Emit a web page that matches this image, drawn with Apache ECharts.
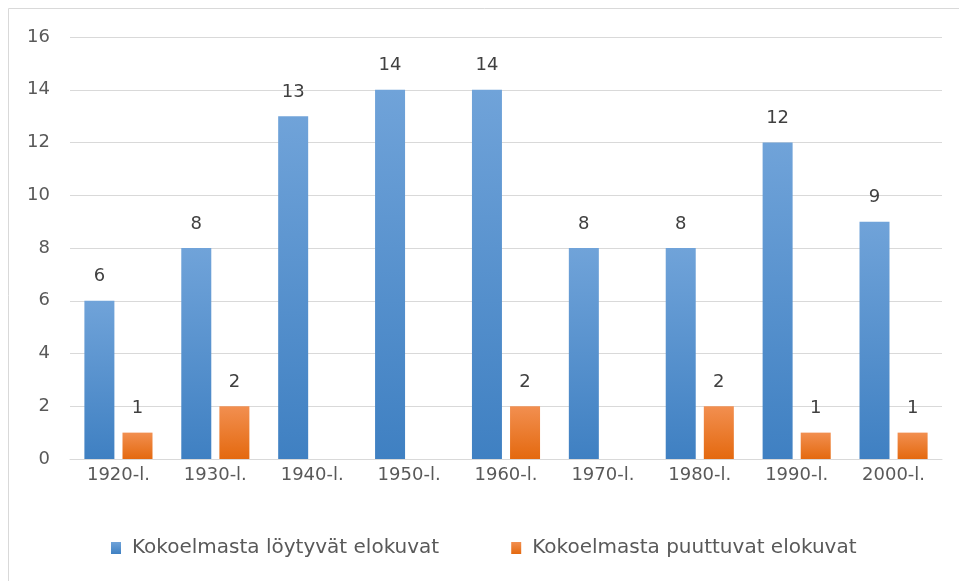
<!DOCTYPE html>
<html><head><meta charset="utf-8">
<script src="https://cdn.jsdelivr.net/npm/echarts@6/dist/echarts.min.js"></script>
<style>html,body{margin:0;padding:0;background:#fff}#c{width:959px;height:581px}</style>
</head><body><div id="c"></div>
<script>
var categories = ['1920-l.','1930-l.','1940-l.','1950-l.','1960-l.','1970-l.','1980-l.','1990-l.','2000-l.'];
var found = [6,8,13,14,14,8,8,12,9];
var missing = [1,2,null,null,2,null,2,1,1];
var seriesNames = ['Kokoelmasta löytyvät elokuvat','Kokoelmasta puuttuvat elokuvat'];
var yTicks = {min:0,max:16,interval:2};

var font = '"DejaVu Sans", sans-serif';
function grad(a,b){return new echarts.graphic.LinearGradient(0,0,0,1,[{offset:0,color:a},{offset:1,color:b}]);}
var chart = echarts.init(document.getElementById('c'));
chart.setOption({
  animation:false,
  textStyle:{fontFamily:font},
  graphic:[{type:'rect',shape:{x:8.5,y:8.5,width:1000,height:600},style:{fill:'none',stroke:'#d9d9d9',lineWidth:1},silent:true}],
  grid:{left:70,right:17,top:37,bottom:122},
  legend:{top:533,left:106,itemWidth:10,itemHeight:12,itemGap:72,icon:'rect',
    textStyle:{color:'#595959',fontSize:20,fontFamily:font,padding:[0,0,0,6]}},
  xAxis:{type:'category',data:categories,
    axisLine:{show:true,lineStyle:{color:'#d9d9d9'}},axisTick:{show:false},
    axisLabel:{color:'#595959',fontSize:18,margin:7,fontFamily:font}},
  yAxis:{type:'value',min:yTicks.min,max:yTicks.max,interval:yTicks.interval,
    axisLine:{show:false},axisTick:{show:false},
    splitLine:{lineStyle:{color:'#d9d9d9'}},
    axisLabel:{color:'#595959',fontSize:18,margin:20,fontFamily:font}},
  series:[
    {name:seriesNames[0],type:'bar',data:found,barWidth:30,barGap:'27%',
     itemStyle:{color:grad('#70a3d9','#3f80c2')},
     label:{show:true,position:'top',distance:15,color:'#404040',fontSize:18,fontFamily:font}},
    {name:seriesNames[1],type:'bar',data:missing,barWidth:30,
     itemStyle:{color:grad('#f28f50','#e4690f')},
     label:{show:true,position:'top',distance:15,color:'#404040',fontSize:18,fontFamily:font}}
  ]
});
</script></body></html>
